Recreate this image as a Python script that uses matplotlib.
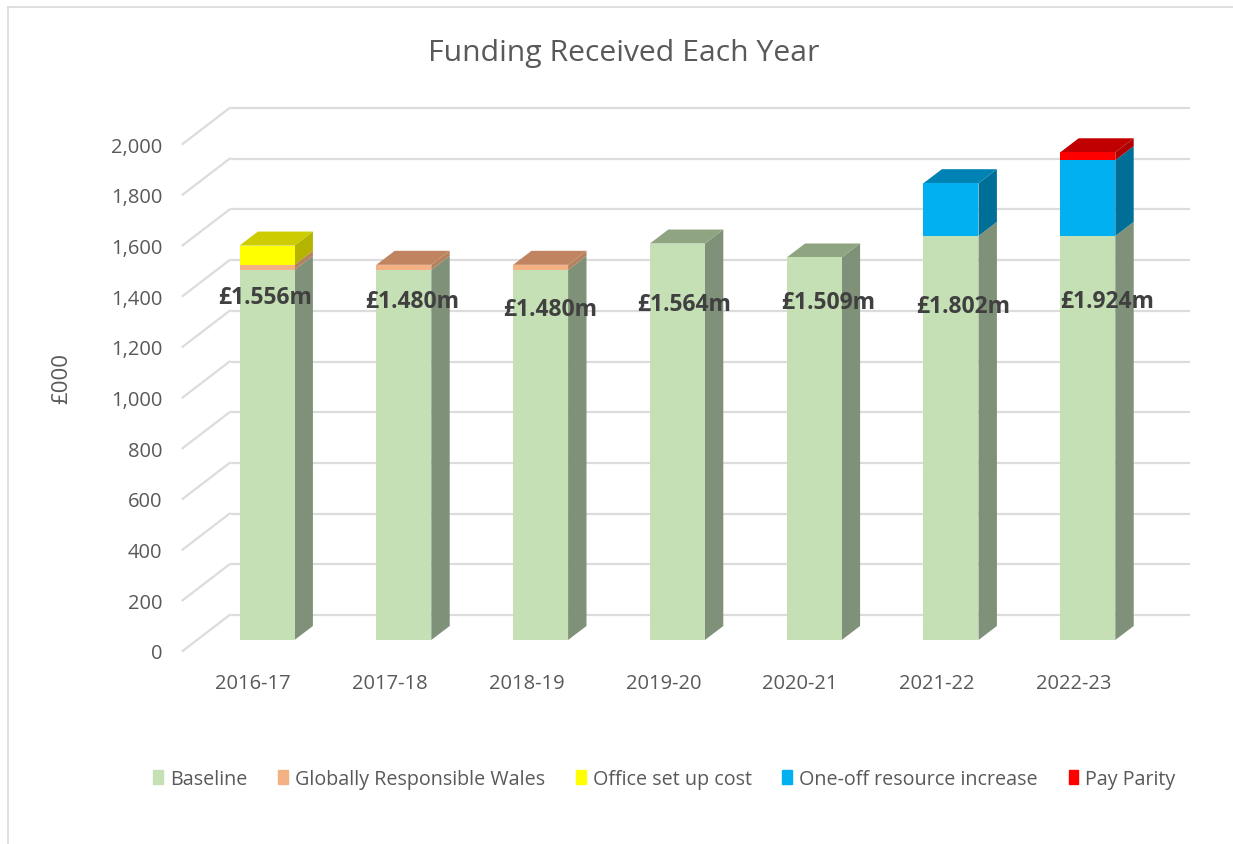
import matplotlib
matplotlib.use("Agg")
import matplotlib.pyplot as plt
from matplotlib.lines import Line2D
from matplotlib.patches import Patch, Polygon
from matplotlib.transforms import Affine2D

plt.rcParams['font.family'] = ['Open Sans', 'DejaVu Sans']

years = ['2016-17', '2017-18', '2018-19', '2019-20', '2020-21', '2021-22', '2022-23']
baseline = [1460, 1460, 1460, 1564, 1509, 1594, 1594]
globally_responsible = [20, 20, 20, 0, 0, 0, 0]
office_setup = [76, 0, 0, 0, 0, 0, 0]
one_off = [0, 0, 0, 0, 0, 208, 299]
pay_parity = [0, 0, 0, 0, 0, 0, 31]
total_labels = ['£1.556m', '£1.480m', '£1.480m', '£1.564m', '£1.509m', '£1.802m', '£1.924m']

series_names = ['Baseline', 'Globally Responsible Wales', 'Office set up cost',
                'One-off resource increase', 'Pay Parity']
series_values = [baseline, globally_responsible, office_setup, one_off, pay_parity]
front_colors = ['#C5E0B4', '#F4B183', '#FFFF00', '#00B0F0', '#FF0000']
side_colors = ['#7F9178', '#B5825F', '#B3B300', '#006F98', '#B00000']
top_colors = ['#8FA582', '#C08560', '#CCCC00', '#0083B4', '#C00000']

# where each total label sits relative to the top of its bar, in pixels
label_dx = [-2, 8, 10, 7, 14, 12, 19]
label_dy = [-51, -36, -44, -60, -45, -123, -149]

TEXT = '#595959'
W, H = 1233, 845

fig = plt.figure(figsize=(W / 100, H / 100), dpi=100)
ax = fig.add_axes([184.6 / W, (H - 652) / H, 957.6 / W, 507 / H])
ax.set_xlim(-0.5, 6.5)
ax.set_ylim(0, 2000)
ax.patch.set_visible(False)
for s in ax.spines.values():
    s.set_visible(False)

yvals = list(range(0, 2001, 200))
ax.set_xticks(range(len(years)))
ax.set_xticklabels(years)
ax.set_yticks(yvals)
ax.set_yticklabels([f'{v:,}' for v in yvals])
ax.tick_params(axis='both', length=0, labelcolor=TEXT, labelsize=14.5)
ax.tick_params(axis='x', pad=16)
ax.tick_params(axis='y', pad=16)
ax.set_ylabel('£000', color=TEXT, fontsize=16, labelpad=0)
ax.yaxis.set_label_coords((72 - 184.6) / 957.6, (652 - 378) / 507)


def plane(dx, dy):
    # the chart's fake 3D depth is a pixel shift of the data plane
    return ax.transData + Affine2D().translate(dx, dy)


# floor diagonals and back wall gridlines
GRID = '#DCDCDC'
back = plane(47, 36)
for v in yvals:
    ax.plot([-0.5, 6.5], [v, v], color=GRID, lw=1.6, transform=back, clip_on=False, zorder=1)
    x0, y0 = ax.transData.transform((-0.5, v))
    ax.add_line(Line2D([x0 - 2, x0 + 45], [y0, y0 + 36], color=GRID, lw=1.6,
                       transform=None, clip_on=False, zorder=1))

# the bars stand part way into that depth
front = plane(14, 11)
BAR_W = 55 / 136.8
DX = 18.4 / 136.8
DY = 14 / 0.2535

bottoms = [0] * len(years)
for k, values in enumerate(series_values):
    ax.bar(range(len(years)), values, BAR_W, bottom=bottoms, color=front_colors[k],
           transform=front, clip_on=False, zorder=3, linewidth=0)
    for i, v in enumerate(values):
        if v == 0:
            continue
        r = i + BAR_W / 2
        l = i - BAR_W / 2
        b = bottoms[i]
        t = b + v
        ax.add_patch(Polygon([(r, b), (r + DX, b + DY), (r + DX, t + DY), (r, t)],
                             closed=True, fc=side_colors[k], ec='none',
                             transform=front, clip_on=False, zorder=2.5))
        # only the highest segment of a bar shows its top face
        if all(s[i] == 0 for s in series_values[k + 1:]):
            ax.add_patch(Polygon([(l, t), (r, t), (r + DX, t + DY), (l + DX, t + DY)],
                                 closed=True, fc=top_colors[k], ec='none',
                                 transform=front, clip_on=False, zorder=2.5))
    bottoms = [b + v for b, v in zip(bottoms, values)]

for i, lab in enumerate(total_labels):
    ax.annotate(lab, xy=(i, bottoms[i]), xycoords=front,
                xytext=(label_dx[i], label_dy[i]), textcoords='offset pixels',
                ha='center', va='center', fontsize=16.5, fontweight='bold',
                color='#404040', zorder=5, annotation_clip=False)

fig.text(624 / W, 1 - 54 / H, 'Funding Received Each Year', ha='center', va='center',
         fontsize=21.7, color=TEXT)

handles = [Patch(color=c, label=n) for c, n in zip(front_colors, series_names)]
fig.legend(handles=handles, ncol=5, loc='center', bbox_to_anchor=(664.5 / W, 1 - 780 / H),
           frameon=False, fontsize=14.2, labelcolor=TEXT, handlelength=0.5, handleheight=0.7,
           handletextpad=0.35, columnspacing=1.56)

# chart frame, cropped on the right and bottom
frame = '#D9D9D9'
fig.add_artist(Line2D([8 / W, 8 / W], [0, 1 - 8 / H], color=frame, lw=1.2))
fig.add_artist(Line2D([8 / W, 1], [1 - 8 / H, 1 - 8 / H], color=frame, lw=1.2))

fig.savefig('out.png', dpi=100)
